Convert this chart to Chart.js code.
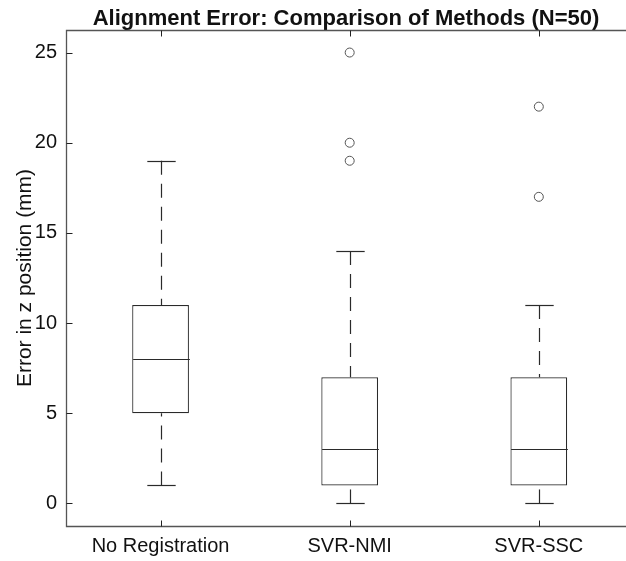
<!DOCTYPE html>
<html>
<head>
<meta charset="utf-8">
<script src="https://cdn.jsdelivr.net/npm/chart.js@4"></script>
<style>
  html, body { margin: 0; padding: 0; background: #fff; }
</style>
</head>
<body>
<canvas id="chart" width="626" height="561"></canvas>
<script>
// values
const categories = ['No Registration', 'SVR-NMI', 'SVR-SSC'];
const whiskerLow = [1, 0, 0];
const q1 = [5, 1, 1];
const medians = [8, 3, 3];
const q3 = [11, 7, 7];
const whiskerHigh = [19, 14, 11];
const outliers = [[], [19, 20, 25], [17, 22]];
const yTicks = [0, 5, 10, 15, 20, 25];

const FONT = '"Liberation Sans", Arial, Helvetica, sans-serif';
const BOX_W = 0.3;       // box width in x units
const LINE = '#2a2a2a';

const boxData = categories.map((c, i) => ({x: i + 1, y: [q1[i], q3[i]]}));
const outlierData = [];
outliers.forEach((list, i) => list.forEach(v => outlierData.push({x: i + 1, y: v})));

const boxPlot = {
  id: 'boxPlot',
  afterDatasetsDraw(chart) {
    const {ctx, scales: {x, y}} = chart;
    ctx.save();
    ctx.strokeStyle = LINE;
    ctx.lineWidth = 1.2;
    categories.forEach((c, i) => {
      const cx = Math.round(x.getPixelForValue(i + 1)) + 0.5;
      const half = x.getPixelForValue(i + 1 + BOX_W / 2) - x.getPixelForValue(i + 1);
      const capHalf = half / 2;
      // whiskers, dashed, starting at the cap
      ctx.setLineDash([14, 9]);
      [[whiskerHigh[i], q3[i]], [whiskerLow[i], q1[i]]].forEach(([end, edge]) => {
        ctx.beginPath();
        ctx.moveTo(cx, y.getPixelForValue(end));
        ctx.lineTo(cx, y.getPixelForValue(edge));
        ctx.stroke();
      });
      ctx.setLineDash([]);
      // caps
      [whiskerHigh[i], whiskerLow[i]].forEach(v => {
        const py = Math.round(y.getPixelForValue(v)) + 0.5;
        ctx.beginPath();
        ctx.moveTo(cx - capHalf, py);
        ctx.lineTo(cx + capHalf, py);
        ctx.stroke();
      });
      // median
      const my = Math.round(y.getPixelForValue(medians[i])) + 0.5;
      ctx.beginPath();
      ctx.moveTo(cx - half, my);
      ctx.lineTo(cx + half, my);
      ctx.stroke();
    });
    ctx.restore();
  },
  afterDraw(chart) {
    const {ctx, chartArea: a, scales: {x, y}} = chart;
    const L = Math.round(a.left) + 0.5, T = Math.round(a.top) + 0.5, B = Math.round(a.bottom) + 0.5;
    ctx.save();
    ctx.strokeStyle = '#555';
    ctx.lineWidth = 1.3;
    ctx.beginPath();
    ctx.moveTo(a.right, T); ctx.lineTo(L, T); ctx.lineTo(L, B); ctx.lineTo(a.right, B);
    ctx.stroke();
    ctx.strokeStyle = '#222';
    ctx.lineWidth = 1;
    ctx.beginPath();
    yTicks.forEach(v => {
      const py = Math.round(y.getPixelForValue(v)) + 0.5;
      ctx.moveTo(L, py); ctx.lineTo(L + 6, py);
    });
    categories.forEach((c, i) => {
      const px = Math.round(x.getPixelForValue(i + 1)) + 0.5;
      ctx.moveTo(px, B); ctx.lineTo(px, B - 6);
      ctx.moveTo(px, T); ctx.lineTo(px, T + 6);
    });
    ctx.stroke();
    ctx.restore();
  }
};

new Chart(document.getElementById('chart'), {
  type: 'bar',
  data: {
    datasets: [
      {
        type: 'bar',
        data: boxData,
        backgroundColor: '#fff',
        borderColor: LINE,
        borderWidth: 1.2,
        borderSkipped: false,
        barPercentage: BOX_W,
        categoryPercentage: 1
      },
      {
        type: 'line',
        data: outlierData,
        showLine: false,
        pointRadius: 4.5,
        pointBackgroundColor: '#fff',
        pointBorderColor: '#555',
        pointBorderWidth: 1
      }
    ]
  },
  options: {
    responsive: false,
    animation: false,
    layout: { padding: 0, autoPadding: false },
    plugins: {
      legend: { display: false },
      tooltip: { enabled: false },
      title: {
        display: true,
        fullSize: false,
        text: 'Alignment Error: Comparison of Methods (N=50)',
        color: '#111',
        font: { family: FONT, size: 22, weight: 'bold', lineHeight: 1 },
        padding: { top: 8, bottom: 0 }
      }
    },
    scales: {
      x: {
        type: 'linear',
        offset: false,
        min: 0.5,
        max: 3.461,
        grid: { display: false, drawTicks: false, offset: false },
        border: { display: false },
        afterBuildTicks: s => { s.ticks = categories.map((c, i) => ({value: i + 1})); },
        afterFit: s => { s.height = 35; },
        ticks: {
          callback: v => categories[v - 1],
          color: '#111',
          padding: 8,
          maxRotation: 0,
          font: { family: FONT, size: 20 }
        }
      },
      y: {
        type: 'linear',
        min: -1.25,
        max: 26.25,
        grid: { display: false, drawTicks: false },
        border: { display: false },
        afterBuildTicks: s => { s.ticks = yTicks.map(v => ({value: v})); },
        afterFit: s => { s.width = 66; },
        ticks: {
          color: '#111',
          padding: 9,
          font: { family: FONT, size: 20 }
        },
        title: {
          display: true,
          text: 'Error in z position (mm)',
          color: '#111',
          font: { family: FONT, size: 21 },
          padding: { top: 13, bottom: 0 }
        }
      }
    }
  },
  plugins: [boxPlot]
});
</script>
</body>
</html>
